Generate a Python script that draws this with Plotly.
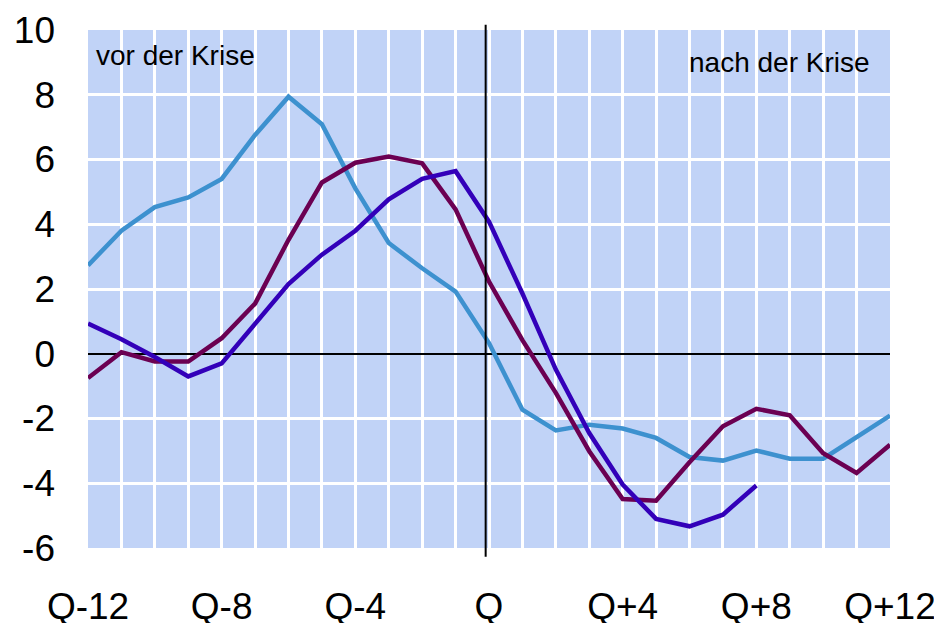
import plotly.graph_objects as go

quarters = list(range(-12, 13))
tick_labels = ["Q-12" if q == -12 else ("Q" if q == 0 else (f"Q{q:+d}" if q % 4 == 0 else "")) for q in quarters]
y_ticks = [-6, -4, -2, 0, 2, 4, 6, 8, 10]
y_tick_labels = ["-6", "-4", "-2", "0", "2", "4", "6", "8", "10"]

series_light = [2.73, 3.80, 4.53, 4.83, 5.40, 6.76, 7.94, 7.09, 5.11, 3.42, 2.64, 1.92,
                0.33, -1.73, -2.37, -2.19, -2.31, -2.60, -3.19, -3.30, -2.99, -3.24, -3.24, -2.57, -1.91]
series_maroon = [-0.75, 0.05, -0.24, -0.24, 0.48, 1.55, 3.52, 5.29, 5.90, 6.09, 5.88, 4.46,
                 2.23, 0.42, -1.21, -3.01, -4.49, -4.54, -3.35, -2.24, -1.70, -1.90, -3.07, -3.68, -2.81]
series_indigo = [0.93, 0.45, -0.10, -0.70, -0.30, 0.93, 2.15, 3.06, 3.80, 4.77, 5.40, 5.64,
                 4.08, 1.86, -0.49, -2.45, -4.04, -5.10, -5.33, -4.97, -4.07]

fig = go.Figure()
fig.add_trace(go.Scatter(x=quarters, y=series_light, mode="lines",
                         line=dict(color="#3d91cf", width=4.5), showlegend=False))
fig.add_trace(go.Scatter(x=quarters, y=series_maroon, mode="lines",
                         line=dict(color="#6b0052", width=4.5), showlegend=False))
fig.add_trace(go.Scatter(x=quarters[:len(series_indigo)], y=series_indigo, mode="lines",
                         line=dict(color="#3300b9", width=4.5), showlegend=False))

fig.add_shape(type="line", xref="x", yref="paper", x0=-0.1, x1=-0.1, y0=-0.017, y1=1.01,
              line=dict(color="black", width=2))

fig.add_annotation(text="vor der Krise", xref="paper", yref="paper", x=0.008, y=0.985,
                   xanchor="left", yanchor="top", showarrow=False,
                   font=dict(family="Liberation Sans, Arial", size=28, color="black"))
fig.add_annotation(text="nach der Krise", xref="paper", yref="paper", x=0.978, y=0.972,
                   xanchor="right", yanchor="top", showarrow=False,
                   font=dict(family="Liberation Sans, Arial", size=28, color="black"))

# The page body adds an 8px offset, so the figure is sized to fill the rest of the window
fig.update_layout(
    width=934, height=615,
    margin=dict(l=80, r=52, t=22, b=75),
    paper_bgcolor="white",
    plot_bgcolor="#c1d3f7",
    font=dict(family="Liberation Sans, Arial", size=37, color="black"),
    xaxis=dict(range=[-12, 12], tickmode="array", tickvals=quarters, ticktext=tick_labels,
               showgrid=True, gridcolor="white", gridwidth=3, zeroline=False,
               showline=False, ticks="", ticklabelstandoff=33, automargin=False,
               tickfont=dict(size=37)),
    yaxis=dict(range=[-6, 10], tickmode="array", tickvals=y_ticks, ticktext=y_tick_labels,
               showgrid=True, gridcolor="white", gridwidth=3,
               zeroline=True, zerolinecolor="black", zerolinewidth=2,
               showline=False, ticks="", ticklabelstandoff=32, automargin=False,
               tickfont=dict(size=37)),
)

fig.write_html("out.html")
